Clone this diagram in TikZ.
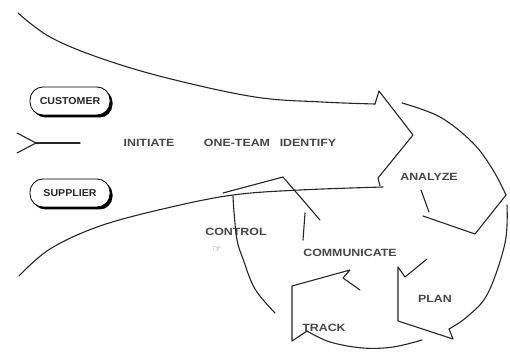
\documentclass[tikz,border=0pt]{standalone}
\usepackage{fontspec}
\setmainfont{Liberation Sans}
\newfontfamily\lblfont[FakeStretch=1.18]{Liberation Sans}
\newfontfamily\pillfont[FakeStretch=1.06]{Liberation Sans}
\newfontfamily\symfont{DejaVu Sans}
\usetikzlibrary{shadows}
\begin{document}
\begin{tikzpicture}[x=1pt,y=-1pt,line cap=round,line join=round,
  ln/.style={draw=black!85,line width=1.1pt},
  lbl/.style={font=\lblfont\bfseries\fontsize{10.5}{12}\selectfont,text=black!72,inner sep=0pt},
  pill/.style={draw=black,line width=0.8pt,fill=white,rounded corners=13pt,
    minimum width=80pt,minimum height=28pt,inner sep=0pt,
    font=\pillfont\bfseries\fontsize{10}{12}\selectfont,text=black!85,
    drop shadow={shadow xshift=2.5pt,shadow yshift=-2.5pt,fill=black,opacity=1}}]
\useasboundingbox (0,0) rectangle (510,352);
\fill[white] (0,0) rectangle (510,352);

% big arrow body
\draw[ln] plot[smooth,tension=0.6] coordinates {(18,13) (50,37) (100,58) (167,78) (255,97) (322,102) (375,104)};
\draw[ln] (375,104) -- (379,91) -- (413,135) -- (378,178) -- (380,186);
\draw[ln] plot[smooth,tension=0.6] coordinates {(19,276) (50,249) (100,226) (167,208) (233,195) (300,190) (383,187)};

% feather
\coordinate (fj) at (36,143);
\draw[ln] (17,133) -- (fj) -- (17,153);
\draw[ln] (fj) -- (80,143);

% pills
\node[pill] (customer) at (70,101) {\raisebox{-3pt}{CUSTOMER}};
\node[pill] (supplier) at (70,193) {SUPPLIER};

% labels
\node[lbl] (initiate) at (149,143) {INITIATE};
\node[lbl] (oneteam) at (237,143) {ONE-TEAM};
\node[lbl] (identify) at (308,143) {IDENTIFY};
\node[lbl] (analyze) at (429,177) {ANALYZE};
\node[lbl] (control) at (236,232) {CONTROL};
\node[font=\symfont\fontsize{10}{11}\selectfont,text=black!60,inner sep=0pt] (hand) at (217,250) {☞};
\node[lbl] (communicate) at (350,253) {COMMUNICATE};
\node[lbl] (plan) at (435,299) {PLAN};
\node[lbl] (track) at (324,328) {TRACK};

% ANALYZE segment
\draw[ln] plot[smooth,tension=0.6] coordinates {(402,103) (440,117) (473,143) (493,170) (506,195)};
\draw[ln] (506,195) -- (475,234) -- (423,216);
\draw[ln] (421,190) -- (429,212);

% PLAN segment
\draw[ln] plot[smooth,tension=0.6] coordinates {(507,205) (505,243) (488,293) (468,316) (449,329)};
\draw[ln] (449,329) -- (453,339) -- (398,321) -- (398,267) -- (405,277) -- (427,259);

% TRACK segment
\draw[ln] plot[smooth,tension=0.6] coordinates {(422,340) (393,347) (363,348) (330,342) (307,331)};
\draw[ln] (307,331) -- (292,341) -- (292,286) -- (350,270) -- (343,278) -- (360,290);

% CONTROL segment
\draw[ln] plot[smooth,tension=0.6] coordinates {(275,313) (255,289) (243,259) (237,240) (234,212) (233,196)};
\draw[ln] (223,193) -- (283,177) -- (320,220);
\draw[ln] (305,213) -- (303,240);
\end{tikzpicture}
\end{document}
